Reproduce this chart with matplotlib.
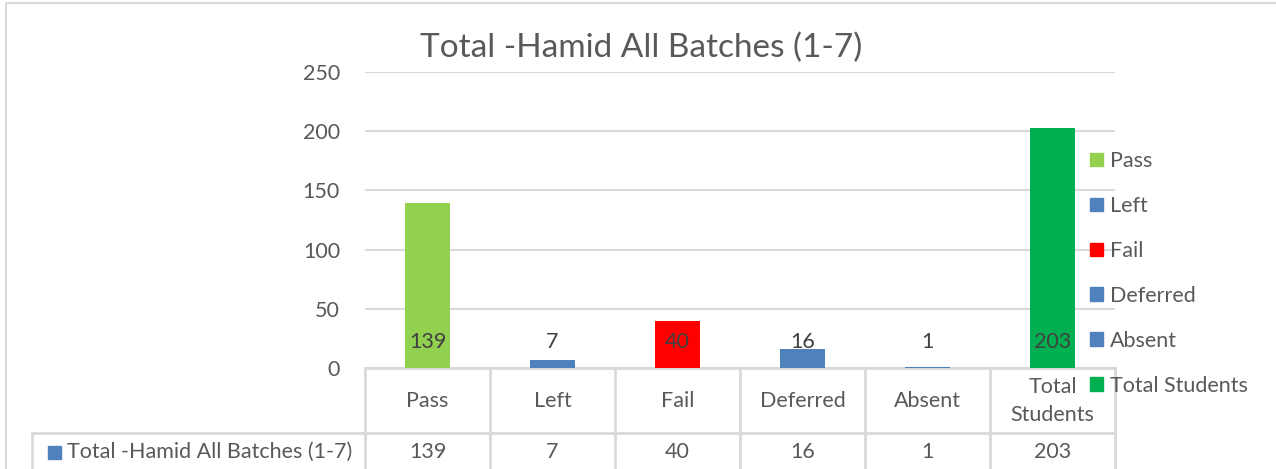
import matplotlib.pyplot as plt
import matplotlib.transforms as mtransforms
from matplotlib.patches import Patch, Rectangle
from matplotlib.lines import Line2D

# chart data
title = "Total -Hamid All Batches (1-7)"
categories = ["Pass", "Left", "Fail", "Deferred", "Absent", "Total Students"]
table_labels = ["Pass", "Left", "Fail", "Deferred", "Absent", "Total\nStudents"]
values = [139, 7, 40, 16, 1, 203]
colors = ["#92d050", "#4f81bd", "#ff0000", "#4f81bd", "#4f81bd", "#00b050"]
series_name = "Total -Hamid All Batches (1-7)"

plt.rcParams['font.family'] = ['Lato', 'DejaVu Sans']
txt = "#595959"
grid = "#d9d9d9"
fs = 15.5

W, H = 1276, 469
fig = plt.figure(figsize=(W / 100, H / 100), dpi=100)

def fx(x):
    return x / W

def fy(y):
    return 1 - y / H

# plot area
ax = fig.add_axes([fx(365), fy(368), fx(1115) - fx(365), fy(72) - fy(368)])
x = list(range(len(categories)))
ax.bar(x, values, width=0.36, color=colors, zorder=3)
ax.set_xlim(-0.5, len(categories) - 0.5)
ax.set_ylim(0, 250)
ax.set_yticks(range(0, 251, 50))
ax.yaxis.grid(True, color=grid, linewidth=1.5, zorder=0)
ax.tick_params(axis='y', length=0, pad=18, labelsize=fs, labelcolor=txt)
ax.set_xticks([])
for s in ax.spines.values():
    s.set_visible(False)

# data labels, inside base
for i, v in enumerate(values):
    ax.annotate(str(v), xy=(i, 0), xytext=(0, 19), textcoords='offset points',
                ha='center', va='center', fontsize=fs, color="#404040", zorder=4)

fig.text(fx(641), fy(48), title, ha='center', va='center', fontsize=24, color=txt)

# data table below the axis
bt = mtransforms.blended_transform_factory(ax.transData, fig.transFigure)
lw = 2
ax.plot([-0.5, len(categories) - 0.5], [fy(368), fy(368)], transform=bt,
        color=grid, lw=lw, clip_on=False)
for b in range(len(categories) + 1):
    ax.plot([b - 0.5, b - 0.5], [fy(368), 0], transform=bt, color=grid, lw=lw, clip_on=False)
fig.add_artist(Line2D([fx(32), fx(1115)], [fy(433), fy(433)], color=grid, lw=lw))
fig.add_artist(Line2D([fx(32), fx(32)], [fy(433), 0], color=grid, lw=lw))
for i, (lab, v) in enumerate(zip(table_labels, values)):
    ax.text(i, fy(401), lab, transform=bt, ha='center', va='center', fontsize=fs,
            color=txt, linespacing=1.55)
    ax.text(i, fy(452), str(v), transform=bt, ha='center', va='center', fontsize=fs, color=txt)
fig.add_artist(Rectangle((fx(48), fy(459)), fx(13), fy(446) - fy(459), color="#4f81bd"))
fig.text(fx(67), fy(452), series_name, ha='left', va='center', fontsize=fs, color=txt)

# legend
handles = [Patch(color=c, label=n) for c, n in zip(colors, categories)]
fig.legend(handles=handles, loc='upper left', bbox_to_anchor=(fx(1090), fy(151)),
           frameon=False, fontsize=fs, labelcolor=txt, handlelength=0.6, handleheight=0.6,
           handletextpad=0.33, labelspacing=1.16, borderaxespad=0, borderpad=0)

# outer chart border
fig.add_artist(Line2D([fx(6), fx(6), 1.01], [0, fy(3), fy(3)], color=grid, lw=1.5))

fig.savefig("out.png", dpi=100)
